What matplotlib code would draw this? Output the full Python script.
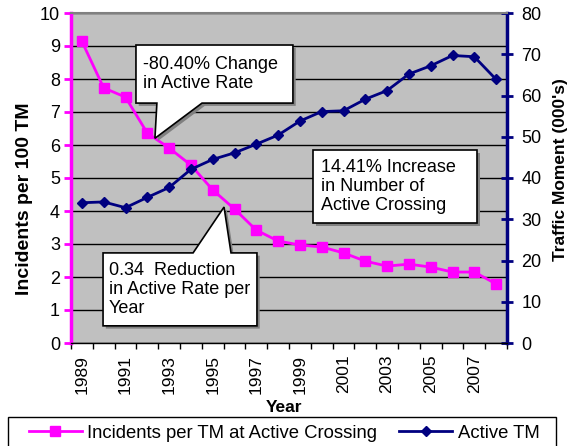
import numpy as np
import matplotlib
matplotlib.use('Agg')
import matplotlib.pyplot as plt
from matplotlib.patches import Polygon, Rectangle
from matplotlib.lines import Line2D
import matplotlib.transforms as mtransforms

plt.rcParams['font.family'] = ['Liberation Sans', 'DejaVu Sans']

YEARS = list(range(1989, 2009))
INCIDENT_RATE = [9.14, 7.73, 7.45, 6.36, 5.91, 5.39, 4.64, 4.06, 3.42, 3.09,
                 2.97, 2.91, 2.73, 2.48, 2.33, 2.39, 2.30, 2.15, 2.15, 1.79]
ACTIVE_TM = [34.0, 34.2, 32.8, 35.3, 37.7, 42.1, 44.5, 46.1, 48.2, 50.4,
             53.8, 56.1, 56.3, 59.1, 61.2, 65.2, 67.2, 69.7, 69.4, 63.9]

PINK = '#FF00FF'
NAVY = '#000080'
W, H = 578, 446
TICK_FS = 13


def callout(ax, box, text, tip=None, base=None, text_x=None):
    # box = (x0, x1, y0, y1) in left-axis data units; base = pointer foot on an edge
    x0, x1, y0, y1 = box
    if tip is None:
        pts = [(x0, y1), (x1, y1), (x1, y0), (x0, y0)]
    elif base[2] == 'bottom':
        pts = [(x0, y1), (x1, y1), (x1, y0), (base[1], y0), tip, (base[0], y0), (x0, y0)]
    else:
        pts = [(x0, y1), (base[0], y1), tip, (base[1], y1), (x1, y1), (x1, y0), (x0, y0)]
    shadow_tr = mtransforms.offset_copy(ax.transData, fig=ax.figure, x=2, y=-2, units='points')
    ax.add_patch(Polygon(pts, closed=True, facecolor='#808080', edgecolor='none',
                         transform=shadow_tr, zorder=5))
    ax.add_patch(Polygon(pts, closed=True, facecolor='white', edgecolor='black',
                         lw=1.2, zorder=6))
    ax.text(text_x, (y0 + y1) / 2, text, ha='left', va='center', fontsize=13,
            linespacing=1.15, zorder=7)


fig = plt.figure(figsize=(W / 100, H / 100), dpi=100)
ax = fig.add_axes([71 / W, 103 / H, 436 / W, 330 / H])
ax2 = ax.twinx()

x = np.arange(len(YEARS))
ax.set_facecolor('#C0C0C0')
ax.set_xlim(-0.5, len(YEARS) - 0.5)
ax.set_ylim(0, 10)
ax.set_yticks(range(0, 11))
ax.yaxis.grid(True, color='black', lw=1)
ax.set_axisbelow(True)

ax.plot(x, INCIDENT_RATE, color=PINK, lw=2, marker='s', ms=7, zorder=3, clip_on=False)
ax2.plot(x, ACTIVE_TM, color=NAVY, lw=2, marker='D', ms=5.5, zorder=3)
ax2.set_ylim(0, 80)
ax2.set_yticks(range(0, 81, 10))

# x axis: ticks on category boundaries, labels every other year
ax.set_xticks(np.arange(-0.5, len(YEARS), 1))
ax.set_xticklabels([])
ax.set_xticks(x[::2], minor=True)
ax.set_xticklabels([str(y) for y in YEARS[::2]], minor=True, rotation=90, fontsize=12.5)
ax.tick_params(axis='x', which='minor', length=0, pad=8.5)
ax.tick_params(axis='x', which='major', length=4, width=1, color='black', direction='out')

ax.tick_params(axis='y', colors='black', labelsize=TICK_FS, length=5, width=2, color=PINK, pad=3)
ax2.tick_params(axis='y', labelsize=TICK_FS, length=9, width=2, color=NAVY, direction='inout', pad=6)

for s in ['top', 'right', 'bottom', 'left']:
    ax.spines[s].set_visible(False)
    ax2.spines[s].set_visible(False)
ax2.spines['left'].set_visible(True)
ax2.spines['left'].set_color(PINK)
ax2.spines['left'].set_linewidth(2.5)
ax2.spines['right'].set_visible(True)
ax2.spines['right'].set_color(NAVY)
ax2.spines['right'].set_linewidth(2.5)
ax2.spines['top'].set_visible(True)
ax2.spines['top'].set_color('#808080')
ax2.spines['top'].set_linewidth(1.5)
ax2.spines['bottom'].set_visible(True)
ax2.spines['bottom'].set_color('black')
ax2.spines['bottom'].set_linewidth(1)

fig.text(25 / W, 1 - 199 / H, 'Incidents per 100 TM', rotation=90, ha='center', va='center',
         fontsize=14, fontweight='bold')
fig.text(561 / W, 1 - 170 / H, "Traffic Moment (000's)", rotation=90, ha='center', va='center',
         fontsize=12.5, fontweight='bold')
fig.text(284 / W, 1 - 408 / H, 'Year', ha='center', va='center', fontsize=12.5, fontweight='bold')

# callouts
tip1_x = 3.35
tip1 = (tip1_x, np.interp(tip1_x, x, INCIDENT_RATE))
callout(ax, (2.48, 9.68, 7.27, 9.03), '-80.40% Change\nin Active Rate',
        tip=tip1, base=(3.44, 5.51, 'bottom'), text_x=2.78)
callout(ax, (10.6, 18.12, 3.64, 5.85), '14.41% Increase\nin Number of\nActive Crossing',
        text_x=10.95)
callout(ax, (0.97, 8.03, 0.52, 2.73), '0.34  Reduction\nin Active Rate per\nYear',
        tip=(6.52, 4.12), base=(5.10, 6.84, 'top'), text_x=1.24)

# legend with a frame running off the bottom edge
fig.patches.append(Rectangle((8 / W, -0.05), 548 / W, 0.05 + 29 / H, transform=fig.transFigure,
                             facecolor='white', edgecolor='black', lw=1))
handles = [Line2D([], [], color=PINK, lw=2, marker='s', ms=7),
           Line2D([], [], color=NAVY, lw=2, marker='D', ms=5.5)]
fig.legend(handles, ['Incidents per TM at Active Crossing', 'Active TM'],
           loc='center left', bbox_to_anchor=(29 / W, 1 - 433 / H), ncol=2,
           fontsize=13.3, frameon=False, borderpad=0, borderaxespad=0,
           handlelength=2.85, columnspacing=1.2, handletextpad=0.3)

fig.savefig('out.png', dpi=100)
